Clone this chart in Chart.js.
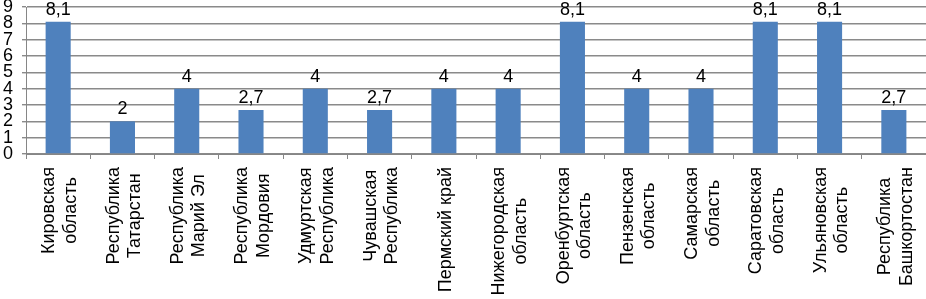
<!DOCTYPE html>
<html>
<head>
<meta charset="utf-8">
<script src="https://cdn.jsdelivr.net/npm/chart.js@4"></script>
<style>
  html, body { margin: 0; padding: 0; background: #fff; }
  #mc { display: block; }
</style>
</head>
<body>
<canvas id="mc" width="926" height="299"></canvas>
<script>
const regions = [
    ['Кировская', 'область'],
    ['Республика', 'Татарстан'],
    ['Республика', 'Марий Эл'],
    ['Республика', 'Мордовия'],
    ['Удмуртская', 'Республика'],
    ['Чувашская', 'Республика'],
    ['Пермский край'],
    ['Нижегородская', 'область'],
    ['Оренбуртская', 'область'],
    ['Пензенская', 'область'],
    ['Самарская', 'область'],
    ['Саратовская', 'область'],
    ['Ульяновская', 'область'],
    ['Республика', 'Башкортостан']
];
const values = [8.1, 2, 4, 2.7, 4, 2.7, 4, 4, 8.1, 4, 4, 8.1, 8.1, 2.7];
const yTicks = [0, 1, 2, 3, 4, 5, 6, 7, 8, 9];

const font = 'Liberation Sans, Arial, sans-serif';

// value labels over the bars, Excel style with a decimal comma
const barLabels = {
    id: 'barLabels',
    afterDatasetsDraw(chart) {
        const g = chart.ctx;
        const meta = chart.getDatasetMeta(0);
        g.save();
        g.font = '18px ' + font;
        g.fillStyle = '#000';
        g.textAlign = 'center';
        g.textBaseline = 'bottom';
        meta.data.forEach((bar, i) => {
            const txt = String(values[i]).replace('.', ',');
            g.fillText(txt, bar.x, bar.y - 3);
        });
        g.restore();
    }
};

// vertical category labels: lines centred on each other, block hung under the axis
const catLabels = {
    id: 'catLabels',
    afterDraw(chart) {
        const g = chart.ctx;
        const xs = chart.scales.x;
        const top = xs.bottom + 8;
        const lh = 21.6;
        g.save();
        g.font = '18px ' + font;
        g.fillStyle = '#000';
        g.textAlign = 'center';
        g.textBaseline = 'middle';
        regions.forEach((lines, i) => {
            const px = xs.getPixelForValue(i) + 2;
            const w = Math.max(...lines.map(s => g.measureText(s).width));
            lines.forEach((s, k) => {
                const x = px + (k - (lines.length - 1) / 2) * lh;
                g.save();
                g.translate(x, top + w / 2);
                g.rotate(-Math.PI / 2);
                g.fillText(s, 0, 0);
                g.restore();
            });
        });
        g.restore();
    }
};

const ctx = document.getElementById('mc');
new Chart(ctx, {
    type: 'bar',
    data: {
        labels: regions,
        datasets: [{
            data: values,
            backgroundColor: '#4F81BD',
            categoryPercentage: 1,
            barPercentage: 0.39
        }]
    },
    options: {
        responsive: false,
        animation: false,
        layout: { padding: { top: 7, right: 0, left: -6, bottom: 140 } },
        plugins: {
            legend: { display: false },
            tooltip: { enabled: false }
        },
        scales: {
            x: {
                grid: {
                    offset: true,
                    drawOnChartArea: false,
                    drawTicks: true,
                    tickLength: 5,
                    color: '#868686'
                },
                border: { color: '#868686', width: 1 },
                ticks: { display: false }
            },
            y: {
                min: 0,
                max: 9,
                afterBuildTicks(axis) {
                    axis.ticks = yTicks.map(v => ({ value: v }));
                },
                // let the top label run off the canvas edge like in the original
                afterFit(axis) {
                    axis.paddingTop = 0;
                    axis.paddingBottom = 0;
                },
                grid: {
                    color: '#8a8a8a',
                    lineWidth: 1.4,
                    tickLength: 4
                },
                border: { color: '#868686', width: 1 },
                ticks: {
                    color: '#000',
                    autoSkip: false,
                    font: { family: font, size: 18 },
                    padding: 9
                }
            }
        }
    },
    plugins: [barLabels, catLabels]
});
</script>
</body>
</html>
